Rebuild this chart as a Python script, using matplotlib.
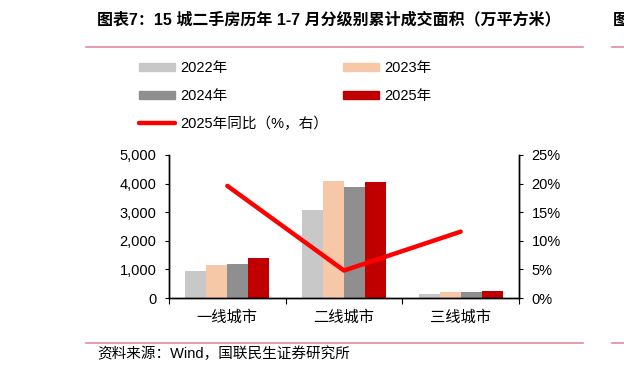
import matplotlib.pyplot as plt
from matplotlib.lines import Line2D
from matplotlib.patches import Patch
import numpy as np

plt.rcParams['font.family'] = ['Liberation Sans', 'Noto Sans CJK SC']

# data
cities = ['一线城市', '二线城市', '三线城市']
years = ['2022年', '2023年', '2024年', '2025年']
area_2022 = [950, 3070, 130]
area_2023 = [1150, 4100, 200]
area_2024 = [1180, 3870, 210]
area_2025 = [1400, 4045, 240]
yoy_2025 = [19.6, 4.8, 11.6]

colors = ['#C8C8C8', '#F6C8A8', '#8F8F8F', '#C00000']

fig = plt.figure(figsize=(6.24, 3.70), dpi=100)
ax = fig.add_axes([169/624, 1-298/370, 350/624, 143/370])
ax2 = ax.twinx()

x = np.arange(len(cities))
w = 0.18
series = [area_2022, area_2023, area_2024, area_2025]
for i, vals in enumerate(series):
	ax.bar(x + (i - 1.5) * w, vals, w, color=colors[i], label=years[i])

ax2.plot(x, yoy_2025, color='#FF0000', lw=3.2, solid_capstyle='round')

ax.set_xlim(-0.5, 2.5)
ax.set_ylim(0, 5000)
ax.set_yticks(range(0, 5001, 1000))
ax.set_yticklabels(['{:,}'.format(v) for v in range(0, 5001, 1000)], fontsize=10.5)
ax2.set_ylim(0, 25)
ax2.set_yticks(range(0, 26, 5))
ax2.set_yticklabels(['{}%'.format(v) for v in range(0, 26, 5)], fontsize=10.5)

# category labels between boundary ticks
ax.set_xticks([-0.5, 0.5, 1.5, 2.5])
ax.set_xticklabels([])
ax.set_xticks(x, minor=True)
ax.set_xticklabels(cities, minor=True, fontsize=11)
ax.tick_params(axis='x', which='minor', length=0, pad=9)
ax.tick_params(axis='x', which='major', length=4, direction='out')
ax.tick_params(axis='y', length=3, direction='out', pad=6)
ax2.tick_params(axis='y', length=3, direction='out', pad=6)

for a in (ax, ax2):
	a.spines['top'].set_visible(False)
	for s in ('left', 'right', 'bottom'):
		a.spines[s].set_color('black')
		a.spines[s].set_linewidth(1.0)

# legend
handles = [Patch(color=colors[0]), Patch(color=colors[2]),
	Line2D([], [], color='#FF0000', lw=3.2, solid_capstyle='round'),
	Patch(color=colors[1]), Patch(color=colors[3])]
labels = ['2022年', '2024年', '2025年同比（%，右）', '2023年', '2025年']
fig.legend(handles, labels, ncol=2, loc='upper left', bbox_to_anchor=(139/624, 1-61/370),
	frameon=False, fontsize=10.5, handlelength=2.5, handleheight=0.5,
	handletextpad=0.35, labelspacing=0.95, columnspacing=1.0, borderpad=0, borderaxespad=0)

# title, rules and source
fig.text(97/624, 1-20/370, '图表7：15 城二手房历年 1-7 月分级别累计成交面积（万平方米）',
	fontsize=11.5, fontweight='bold', va='center', ha='left')
fig.add_artist(Line2D([86/624, 583/624], [1-47/370, 1-47/370], color='#E48A9E', lw=1.2))
fig.add_artist(Line2D([612/624, 1], [1-47/370, 1-47/370], color='#E48A9E', lw=1.2))
fig.add_artist(Line2D([86/624, 583/624], [1-343/370, 1-343/370], color='#E48A9E', lw=1.2))
fig.add_artist(Line2D([612/624, 1], [1-343/370, 1-343/370], color='#E48A9E', lw=1.2))
fig.text(613/624, 1-20/370, '图', fontsize=11.5, fontweight='bold', va='center', ha='left')
fig.text(97/624, 1-354/370, '资料来源：Wind，国联民生证券研究所', fontsize=10.5, va='center', ha='left')

fig.savefig('out.png', dpi=100)
